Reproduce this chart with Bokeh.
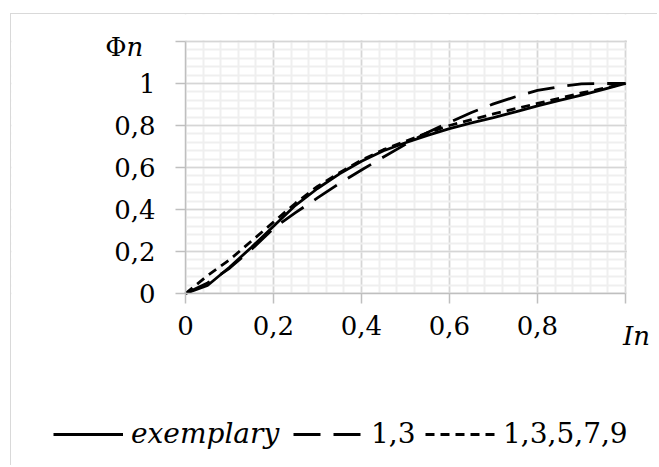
from bokeh.plotting import figure
from bokeh.models import Range1d, FixedTicker, Label, Legend, LegendItem, BoxAnnotation
from bokeh.embed import file_html
from bokeh.resources import INLINE

# ---- data ----
x_values = [0, 0.05, 0.1, 0.15, 0.2, 0.25, 0.3, 0.35, 0.4, 0.45, 0.5,
            0.55, 0.6, 0.65, 0.7, 0.75, 0.8, 0.85, 0.9, 0.95, 1.0]
exemplary = [0, 0.038, 0.125, 0.22, 0.32, 0.42, 0.50, 0.57, 0.63, 0.68, 0.718,
             0.753, 0.785, 0.812, 0.838, 0.865, 0.893, 0.92, 0.945, 0.972, 1.0]
series_13 = [0, 0.05, 0.12, 0.21, 0.31, 0.385, 0.455, 0.525, 0.588, 0.65, 0.71,
             0.767, 0.815, 0.862, 0.903, 0.937, 0.967, 0.985, 0.998, 1.0, 1.0]
series_13579 = [0, 0.085, 0.16, 0.25, 0.34, 0.43, 0.51, 0.575, 0.635, 0.685, 0.725,
                0.765, 0.8, 0.828, 0.855, 0.88, 0.905, 0.93, 0.955, 0.977, 1.0]

x_ticks = [0, 0.2, 0.4, 0.6, 0.8, 1.0]
x_tick_labels = ["0", "0,2", "0,4", "0,6", "0,8", ""]
y_ticks = [0, 0.2, 0.4, 0.6, 0.8, 1.0, 1.2]
y_tick_labels = ["0", "0,2", "0,4", "0,6", "0,8", "1", ""]
x_minor = [round(i * 0.04, 2) for i in range(26)]
y_minor = [round(i * 0.04, 2) for i in range(31)]
legend_labels = ["exemplary", "1,3", "1,3,5,7,9"]
x_title = "In"
y_title_a, y_title_b = "Φ", "n"

FONT = "DejaVu Serif"
FS = "26px"
LFS = "28px"

# ---- layout geometry (pixels inside the canvas) ----
W, H = 647, 452
PX0, PXU = 174, 440      # canvas x of data x=0, pixels per unit x
PY0, PYU = 279, 210      # canvas y (from top) of data y=0, pixels per unit y
X_MAX, Y_MAX = 1.0, 1.2

p = figure(width=W, height=H, output_backend="svg", toolbar_location=None,
           x_range=Range1d(-PX0 / PXU, (W - PX0) / PXU),
           y_range=Range1d(-(H - PY0) / PYU, PY0 / PYU),
           min_border=0, min_border_left=0, min_border_right=0,
           min_border_top=0, min_border_bottom=0)
p.styles = {"margin-left": "10px", "margin-top": "13px",
            "border-left": "1px solid #d9d9d9", "border-top": "1px solid #d9d9d9"}
p.outline_line_color = None
p.background_fill_color = "white"
p.border_fill_color = "white"

p.xaxis.ticker = FixedTicker(ticks=x_ticks, minor_ticks=x_minor)
p.yaxis.ticker = FixedTicker(ticks=y_ticks, minor_ticks=y_minor)
p.xaxis.major_label_overrides = {t: l for t, l in zip(x_ticks, x_tick_labels)}
p.yaxis.major_label_overrides = {t: l for t, l in zip(y_ticks, y_tick_labels)}
p.xaxis.fixed_location = 0
p.yaxis.fixed_location = 0
p.xaxis.bounds = (0, X_MAX)
p.yaxis.bounds = (0, Y_MAX)

for ax in (p.xaxis, p.yaxis):
    ax.axis_line_color = "#bfbfbf"
    ax.axis_line_width = 1.5
    ax.major_tick_line_color = "#bfbfbf"
    ax.major_tick_line_width = 1.5
    ax.major_tick_out = 10
    ax.major_tick_in = 0
    ax.minor_tick_line_color = None
    ax.major_label_text_font = FONT
    ax.major_label_text_font_size = FS
    ax.major_label_text_color = "black"
p.xaxis.major_label_standoff = 12
p.yaxis.major_label_standoff = 20

for g in (p.xgrid, p.ygrid):
    g.grid_line_color = "#d6d6d6"
    g.grid_line_width = 1.5
    g.minor_grid_line_color = "#efefef"
    g.minor_grid_line_width = 2

# white masks that trim the grid to the plotting area
eps_x, eps_y = 1.5 / PXU, 1.5 / PYU
for kw in (dict(right=0), dict(left=X_MAX + eps_x), dict(top=0), dict(bottom=Y_MAX + eps_y)):
    p.add_layout(BoxAnnotation(level="underlay", fill_color="white", fill_alpha=1.0,
                               line_color=None, **kw))

r1 = p.line(x_values, exemplary, line_color="black", line_width=2.8)
r2 = p.line(x_values, series_13, line_color="black", line_width=2.8, line_dash="27 13")
r3 = p.line(x_values, series_13579, line_color="black", line_width=2.8, line_dash="9 6")

leg_x = [42, 282, 414]
styles = ["italic", "normal", "normal"]
for r, lab, lx, st in zip([r1, r2, r3], legend_labels, leg_x, styles):
    leg = Legend(items=[LegendItem(label=lab, renderers=[r])], location=(lx, 16),
                 orientation="horizontal", glyph_width=70, glyph_height=20,
                 label_standoff=8, padding=0, margin=0, spacing=0,
                 border_line_color=None, background_fill_alpha=0,
                 label_text_font=FONT, label_text_font_size=LFS,
                 label_text_font_style=st, label_height=30, label_text_color="black")
    p.add_layout(leg)

p.add_layout(Label(x=X_MAX, y=0, x_offset=11, y_offset=-27, text=x_title,
                   text_align="center", text_baseline="top", text_font=FONT,
                   text_font_style="italic", text_font_size=FS, text_color="black"))
p.add_layout(Label(x=0, y=Y_MAX, x_offset=-59, y_offset=-5, text=y_title_a,
                   text_align="right", text_baseline="middle", text_font=FONT,
                   text_font_size=FS, text_color="black"))
p.add_layout(Label(x=0, y=Y_MAX, x_offset=-59, y_offset=-5, text=y_title_b,
                   text_align="left", text_baseline="middle", text_font=FONT,
                   text_font_style="italic", text_font_size=FS, text_color="black"))

open("out.html", "w").write(file_html(p, INLINE))
